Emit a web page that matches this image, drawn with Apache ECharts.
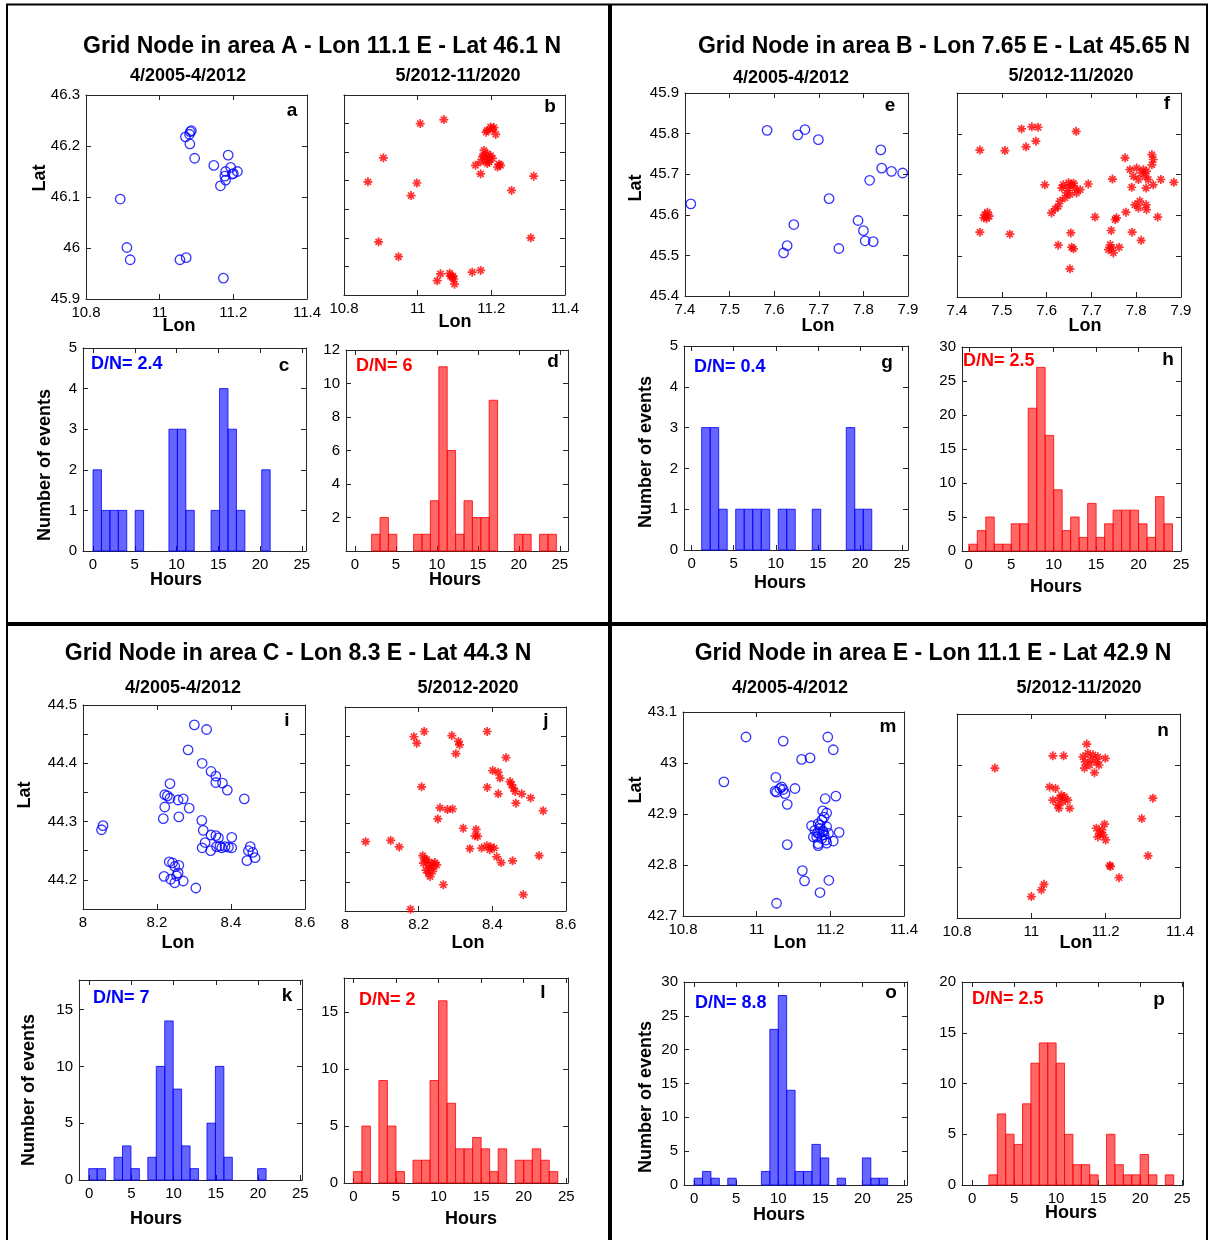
<!DOCTYPE html>
<html><head><meta charset="utf-8">
<script src="https://cdn.jsdelivr.net/npm/echarts@6/dist/echarts.min.js"></script>
<style>html,body{margin:0;padding:0;background:#fff}#c{width:1208px;height:1240px}</style>
</head><body><div id="c"></div>
<script>
// ---------------- DATA ----------------
// Panel A (Lon 11.1 E - Lat 46.1 N)
const aLon = [11.086,11.070,11.081,11.083,11.082,11.095,11.186,11.147,11.193,11.179,11.197,11.211,11.177,11.179,11.165,11.200,10.893,10.911,10.920,11.055,11.072,11.173];
const aLat = [46.230,46.218,46.223,46.228,46.204,46.176,46.182,46.162,46.158,46.150,46.145,46.150,46.141,46.133,46.122,46.146,46.096,46.001,45.977,45.977,45.981,45.941];
const bLon = [11.007,11.071,10.907,10.865,10.998,10.982,10.894,10.948,11.315,11.255,11.307,
  11.189,11.198,11.207,11.212,11.203,11.186,
  11.180,11.189,11.176,11.185,11.194,11.198,11.171,11.157,11.217,11.225,11.171,11.194,11.180,11.189,11.203,11.221,
  11.053,11.062,11.089,11.094,11.098,11.100,11.148,11.171,11.087,11.096];
const bLat = [46.250,46.257,46.190,46.148,46.146,46.124,46.043,46.017,46.158,46.133,46.050,
  46.238,46.244,46.243,46.231,46.240,46.235,
  46.203,46.197,46.192,46.186,46.183,46.194,46.183,46.177,46.174,46.177,46.162,46.188,46.194,46.180,46.189,46.179,
  45.975,45.987,45.983,45.981,45.978,45.969,45.990,45.993,45.988,45.983];
const cCounts = [2,1,1,1,0,1,0,0,0,3,3,1,0,0,1,4,3,1,0,0,2];
const dCounts = [1,2,1,0,0,1,1,3,11,6,1,3,2,2,9,0,0,1,1,0,1,1];

// Panel B (Lon 7.65 E - Lat 45.65 N)
const eLon = [7.413,7.584,7.653,7.669,7.699,7.839,7.841,7.863,7.888,7.814,7.723,7.644,7.629,7.621,7.745,7.788,7.800,7.804,7.822];
const eLat = [45.627,45.808,45.797,45.810,45.785,45.760,45.715,45.707,45.703,45.685,45.640,45.576,45.524,45.506,45.517,45.586,45.561,45.536,45.534];
const fLon = [7.451,7.507,7.544,7.567,7.581,7.554,7.576,7.666,
  7.462,7.468,7.472,7.460,7.466,7.451,7.518,7.596,
  7.637,7.649,7.656,7.663,7.645,7.634,7.652,7.667,7.641,7.630,7.626,7.619,7.611,7.693,7.660,7.675,7.649,
  7.654,7.626,7.656,7.660,7.652,7.708,
  7.775,7.747,7.786,7.801,7.812,7.820,7.794,7.805,7.827,7.835,7.838,7.835,7.823,7.816,7.838,7.822,7.790,7.855,7.884,
  7.797,7.808,7.822,7.823,7.805,7.777,7.848,7.753,7.756,7.744,7.791,7.811,7.742,7.745,7.749,7.762,7.738];
const fLat = [45.760,45.759,45.812,45.817,45.816,45.768,45.782,45.806,
  45.602,45.608,45.598,45.594,45.592,45.559,45.554,45.675,
  45.675,45.667,45.675,45.667,45.655,45.667,45.651,45.655,45.643,45.635,45.622,45.616,45.606,45.677,45.679,45.663,45.680,
  45.557,45.527,45.522,45.518,45.469,45.596,
  45.741,45.689,45.712,45.716,45.704,45.696,45.696,45.688,45.688,45.749,45.737,45.724,45.708,45.712,45.675,45.667,45.669,45.688,45.681,
  45.626,45.635,45.626,45.614,45.618,45.608,45.596,45.590,45.594,45.563,45.559,45.539,45.528,45.520,45.508,45.522,45.516];
const gCounts = [3,3,1,0,1,1,1,1,0,1,1,0,0,1,0,0,0,3,1,1];
const hCounts = [1,3,5,1,1,4,4,21,27,17,9,3,5,2,7,2,4,6,6,6,4,2,8,4];

// Panel C (Lon 8.3 E - Lat 44.3 N)
const iLon = [8.301,8.334,8.284,8.322,8.346,8.359,8.359,8.377,8.390,8.436,8.235,8.221,8.228,8.235,8.257,8.271,8.221,8.287,8.217,8.259,
  8.054,8.050,8.321,8.325,8.346,8.359,8.366,8.402,8.330,8.322,8.345,8.361,8.370,8.384,8.393,8.402,8.375,8.452,8.447,8.459,8.465,8.443,
  8.233,8.242,8.259,8.248,8.257,8.253,8.219,8.237,8.271,8.248,8.305];
const iLat = [44.466,44.458,44.423,44.400,44.386,44.378,44.367,44.366,44.354,44.339,44.365,44.346,44.344,44.340,44.337,44.339,44.325,44.323,44.305,44.308,
  44.293,44.286,44.302,44.285,44.277,44.276,44.272,44.273,44.264,44.255,44.250,44.257,44.258,44.257,44.256,44.255,44.255,44.257,44.250,44.247,44.238,44.233,
  44.231,44.229,44.225,44.223,44.212,44.207,44.206,44.201,44.198,44.195,44.186];
const jLon = [8.187,8.195,8.215,8.290,8.308,8.311,8.301,8.386,8.437,8.401,8.416,8.421,8.448,8.452,8.457,8.462,8.480,8.464,8.504,8.538,8.386,8.416,8.208,
  8.258,8.278,8.292,8.252,8.321,8.356,8.353,8.360,8.339,8.371,8.385,8.396,8.405,8.393,8.412,8.424,8.455,8.527,8.056,8.124,8.147,
  8.211,8.213,8.222,8.226,8.231,8.235,8.240,8.244,8.220,8.226,8.231,8.238,8.217,8.249,8.267,8.484,8.178];
const jLat = [44.449,44.438,44.458,44.451,44.441,44.435,44.420,44.458,44.413,44.391,44.388,44.378,44.372,44.367,44.361,44.355,44.351,44.335,44.344,44.322,44.362,44.351,44.363,
  44.327,44.324,44.325,44.308,44.292,44.290,44.279,44.278,44.257,44.258,44.262,44.260,44.258,44.255,44.243,44.233,44.236,44.245,44.269,44.271,44.260,
  44.245,44.232,44.238,44.229,44.223,44.232,44.226,44.233,44.220,44.215,44.209,44.218,44.239,44.229,44.195,44.178,44.153];
const kCounts = [1,1,0,2,3,1,0,2,10,14,8,3,1,0,5,10,2,0,0,0,1];
const lCounts = [1,5,0,9,5,1,0,2,2,9,16,7,3,3,4,3,1,3,0,2,2,3,2,1];

// Panel E (Lon 11.1 E - Lat 42.9 N)
const mLon = [10.971,11.072,11.193,11.208,11.122,11.145,10.911,11.052,11.054,11.063,11.068,11.072,11.077,11.050,11.104,11.083,11.186,11.215,11.179,11.190,
  11.149,11.158,11.167,11.177,11.183,11.172,11.181,11.190,11.195,11.163,11.177,11.188,11.167,11.190,11.208,11.224,11.167,11.154,11.172,11.179,11.170,11.183,11.165,
  11.083,11.124,11.130,11.196,11.172,11.054];
const mLat = [43.051,43.043,43.051,43.026,43.007,43.010,42.963,42.972,42.943,42.950,42.953,42.948,42.940,42.945,42.950,42.919,42.930,42.935,42.906,42.902,
  42.877,42.868,42.881,42.888,42.894,42.872,42.865,42.875,42.862,42.855,42.852,42.849,42.842,42.843,42.847,42.864,42.838,42.855,42.878,42.867,42.862,42.859,42.863,
  42.840,42.789,42.769,42.770,42.746,42.725];
const nLon = [10.902,11.058,11.087,
  11.149,11.139,11.152,11.166,11.179,11.161,11.175,11.199,11.143,11.157,11.170,11.182,11.145,
  11.049,11.065,11.058,11.076,11.089,11.098,11.071,11.085,11.103,11.074,11.081,
  11.197,11.175,11.184,11.193,11.200,11.179,11.190,
  11.327,11.297,11.314,11.211,11.213,11.236,11.034,11.027,11.000];
const nLat = [42.994,43.018,43.018,
  43.041,43.016,43.023,43.020,43.016,43.010,43.006,43.013,42.994,43.000,42.985,43.000,43.006,
  42.957,42.954,42.931,42.935,42.938,42.931,42.922,42.928,42.915,42.915,42.941,
  42.884,42.876,42.866,42.863,42.853,42.859,42.873,
  42.935,42.895,42.822,42.803,42.801,42.779,42.766,42.755,42.742];
const oCounts = [1,2,1,0,1,0,0,0,2,23,28,14,2,2,6,4,0,1,0,0,4,1,1];
const pCounts = [1,7,5,4,8,12,14,14,12,5,2,2,1,0,5,2,1,1,3,1,0,1];

// bin start hour and bin width (hours) of each histogram
const binStart = {c:0, d:2.03, g:1.2, h:0, k:-0.05, l:0, o:0, p:2};
const binWidth = {c:1.01, d:1.025, g:1.01, h:1.0, k:1.0, l:1.0, o:1.0, p:1.0};

// tick values
const hourTicks = [0,5,10,15,20,25];
const lonTicksA = [10.8,11,11.2,11.4];
const latTicksA = [45.9,46,46.1,46.2,46.3];
const latTicksB2 = [46.0,46.05,46.1,46.15,46.2,46.25];
const lonTicksB = [7.4,7.5,7.6,7.7,7.8,7.9];
const latTicksB = [45.4,45.5,45.6,45.7,45.8,45.9];
const lonTicksC = [8,8.2,8.4,8.6];
const latTicksC = [44.15,44.2,44.25,44.3,44.35,44.4,44.45,44.5];
const latLabelsC = [44.2,44.3,44.4,44.5];
const lonTicksE = [10.8,11,11.2,11.4];
const latTicksE = [42.7,42.8,42.9,43,43.1];

// ---------------- BUILD ----------------
const FONT = '"Liberation Sans", Arial, Helvetica, sans-serif';
const AX = '#262626';
const BLUE = '#0000ff', RED = '#ff0000';
const grids = [], xAxes = [], yAxes = [], series = [];

function fmt(v){ return String(Number(v.toFixed(3))); }

function addGrid(box, xr, yr, xTicks, xLabels, yTicks, yLabels){
  const gi = grids.length;
  grids.push({left:box[0], top:box[1], width:box[2]-box[0], height:box[3]-box[1], containLabel:false});
  const base = (pos, ticks, labels, range, isX) => ({
    gridIndex: gi, type:'value', min: range[0], max: range[1], position: pos,
    axisLine:{show:true, onZero:false, lineStyle:{color:AX, width:1}},
    axisTick:{show:true, inside:true, length:5, customValues:ticks, lineStyle:{color:AX, width:1}},
    axisLabel:{show: !!labels, customValues: labels || [], formatter: fmt,
      fontFamily: FONT, fontSize: 15, color:'#000', margin: isX ? 6 : 6},
    splitLine:{show:false}
  });
  xAxes.push(base('bottom', xTicks, xLabels, xr, true));
  xAxes.push(base('top', xTicks, null, xr, true));
  yAxes.push(base('left', yTicks, yLabels, yr, false));
  yAxes.push(base('right', yTicks, null, yr, false));
  return gi;
}

function addScatter(gi, lon, lat, kind){
  const blue = kind === 'blue';
  series.push({
    type:'scatter', xAxisIndex: gi*2, yAxisIndex: gi*2, silent:true, clip:false,
    data: lon.map((v,i)=>[v, lat[i]]),
    symbol: blue ? 'circle' : 'path://M0,5L10,5M5,0L5,10M1.6,1.6L8.4,8.4M8.4,1.6L1.6,8.4',
    symbolSize: blue ? 9.5 : 9,
    itemStyle: {color:'rgba(0,0,0,0)', borderColor: blue ? BLUE : RED, borderWidth: blue ? 1.3 : 1.7}
  });
}

function addHist(gi, counts, key, kind){
  const blue = kind === 'blue';
  const s = binStart[key], w = binWidth[key];
  const data = [];
  counts.forEach((c,i)=>{ if(c>0) data.push([s+i*w, s+(i+1)*w, c]); });
  series.push({
    type:'custom', xAxisIndex: gi*2, yAxisIndex: gi*2, silent:true,
    data, encode:{x:[0,1], y:2},
    renderItem:(params, api)=>{
      const p0 = api.coord([api.value(0), 0]);
      const p1 = api.coord([api.value(1), api.value(2)]);
      return {type:'rect', shape:{x:p0[0], y:p1[1], width:p1[0]-p0[0], height:p0[1]-p1[1]},
        style:{fill: blue ? 'rgba(0,0,255,0.6)' : 'rgba(255,0,0,0.6)', stroke: blue ? '#0000ff' : '#ff0000', lineWidth:0.8}};
    }
  });
}

function ticks(a,b,st){ const r=[]; for(let v=a; v<=b+1e-9; v+=st) r.push(Math.round(v*1000)/1000); return r; }

// Panel A
let g;
g = addGrid([86,95,307,299],[10.8,11.4],[45.9,46.3], lonTicksA, lonTicksA, latTicksA, latTicksA); addScatter(g, aLon, aLat, 'blue');
g = addGrid([344,95,565,295],[10.8,11.4],[45.95,46.3], lonTicksA, lonTicksA, latTicksB2, null); addScatter(g, bLon, bLat, 'red');
g = addGrid([83,348,306,551],[-1.2,25.5],[0,5], hourTicks, hourTicks, ticks(0,5,1), ticks(0,5,1)); addHist(g, cCounts, 'c', 'blue');
g = addGrid([346,350,568,551],[-1.1,26],[0,12], hourTicks, hourTicks, ticks(2,12,2), ticks(2,12,2)); addHist(g, dCounts, 'd', 'red');
// Panel B
g = addGrid([685,93,908,296],[7.4,7.9],[45.4,45.9], lonTicksB, lonTicksB, latTicksB, latTicksB); addScatter(g, eLon, eLat, 'blue');
g = addGrid([957,93,1181,297],[7.4,7.9],[45.4,45.9], lonTicksB, lonTicksB, latTicksB, null); addScatter(g, fLon, fLat, 'red');
g = addGrid([684,346,908,550],[-0.9,25.7],[0,5], hourTicks, hourTicks, ticks(0,5,1), ticks(0,5,1)); addHist(g, gCounts, 'g', 'blue');
g = addGrid([962,347,1181,551],[-0.8,25],[0,30], hourTicks, hourTicks, ticks(0,30,5), ticks(0,30,5)); addHist(g, hCounts, 'h', 'red');
// Panel C
g = addGrid([83,705,305,909],[8,8.6],[44.15,44.5], lonTicksC, lonTicksC, latTicksC, latLabelsC); addScatter(g, iLon, iLat, 'blue');
g = addGrid([345,707,566,911],[8,8.6],[44.15,44.5], lonTicksC, lonTicksC, latTicksC, null); addScatter(g, jLon, jLat, 'red');
g = addGrid([79,980,302,1180],[-1.2,25.2],[0,17.6], hourTicks, hourTicks, ticks(0,15,5), ticks(0,15,5)); addHist(g, kCounts, 'k', 'blue');
g = addGrid([344,978,568,1183],[-1.1,25.2],[0,18], hourTicks, hourTicks, ticks(0,15,5), ticks(0,15,5)); addHist(g, lCounts, 'l', 'red');
// Panel E
g = addGrid([683,712,904,916],[10.8,11.4],[42.7,43.1], lonTicksE, lonTicksE, latTicksE, latTicksE); addScatter(g, mLon, mLat, 'blue');
g = addGrid([957,714,1180,918],[10.8,11.4],[42.7,43.1], lonTicksE, lonTicksE, latTicksE, null); addScatter(g, nLon, nLat, 'red');
g = addGrid([684,982,907,1185],[-1.2,25.3],[0,30], hourTicks, hourTicks, ticks(0,30,5), ticks(0,30,5)); addHist(g, oCounts, 'o', 'blue');
g = addGrid([962,982,1183,1185],[-1.2,25.1],[0,20], hourTicks, hourTicks, ticks(0,20,5), ticks(0,20,5)); addHist(g, pCounts, 'p', 'red');

// ---------------- TEXT / FRAME ----------------
const gfx = [];
function txt(t, x, y, size, opts){
  opts = opts || {};
  gfx.push({type:'text', x, y, rotation: opts.rot || 0, silent:true, z:100,
    style:{text:t, fill: opts.color || '#000', font: (opts.bold===false?'':'bold ') + size + 'px ' + FONT,
      align: opts.align || 'center', verticalAlign:'middle'}});
}
const R = Math.PI/2;
const TS = 23, SS = 18, AS = 18;
// titles
txt('Grid Node in area A - Lon 11.1 E - Lat 46.1 N', 322, 47, TS);
txt('Grid Node in area B - Lon 7.65 E - Lat 45.65 N', 944, 47, TS);
txt('Grid Node in area C - Lon 8.3 E - Lat 44.3 N', 298, 654, TS);
txt('Grid Node in area E - Lon 11.1 E - Lat 42.9 N', 933, 654, TS);
// period subtitles
txt('4/2005-4/2012', 188, 76, SS); txt('5/2012-11/2020', 458, 76, SS);
txt('4/2005-4/2012', 791, 78, SS); txt('5/2012-11/2020', 1071, 76, SS);
txt('4/2005-4/2012', 183, 688, SS); txt('5/2012-2020', 468, 688, SS);
txt('4/2005-4/2012', 790, 688, SS); txt('5/2012-11/2020', 1079, 688, SS);
// axis names
txt('Lat', 40, 178, AS, {rot:R}); txt('Lat', 636, 188, AS, {rot:R}); txt('Lat', 25, 795, AS, {rot:R}); txt('Lat', 636, 790, AS, {rot:R});
txt('Lon', 179, 326, AS); txt('Lon', 455, 322, AS); txt('Lon', 818, 326, AS); txt('Lon', 1085, 326, AS);
txt('Lon', 178, 943, AS); txt('Lon', 468, 943, AS); txt('Lon', 790, 943, AS); txt('Lon', 1076, 943, AS);
txt('Number of events', 45, 465, AS, {rot:R}); txt('Number of events', 646, 452, AS, {rot:R});
txt('Number of events', 29, 1090, AS, {rot:R}); txt('Number of events', 646, 1097, AS, {rot:R});
txt('Hours', 176, 580, AS); txt('Hours', 455, 580, AS); txt('Hours', 780, 583, AS); txt('Hours', 1056, 587, AS);
txt('Hours', 156, 1219, AS); txt('Hours', 471, 1219, AS); txt('Hours', 779, 1215, AS); txt('Hours', 1071, 1213, AS);
// D/N
txt('D/N= 2.4', 91, 364, SS, {color:BLUE, align:'left'}); txt('D/N= 6', 356, 366, SS, {color:RED, align:'left'});
txt('D/N= 0.4', 694, 367, SS, {color:BLUE, align:'left'}); txt('D/N= 2.5', 963, 361, SS, {color:RED, align:'left'});
txt('D/N= 7', 93, 998, SS, {color:BLUE, align:'left'}); txt('D/N= 2', 359, 1000, SS, {color:RED, align:'left'});
txt('D/N= 8.8', 695, 1003, SS, {color:BLUE, align:'left'}); txt('D/N= 2.5', 972, 999, SS, {color:RED, align:'left'});
// panel letters
[['a',292,111],['b',550,107],['c',284,366],['d',553,362],['e',890,106],['f',1167,104],['g',887,363],['h',1168,360],
 ['i',287,721],['j',546,721],['k',287,996],['l',543,993],['m',888,727],['n',1163,731],['o',891,993],['p',1159,1000]]
 .forEach(d=>txt(d[0], d[1], d[2], 19));
// frame
const line = (x1,y1,x2,y2,w)=>gfx.push({type:'line', silent:true, z:50, shape:{x1,y1,x2,y2}, style:{stroke:'#000', lineWidth:w}});
line(7,4,7,1240,2); line(6,4.5,1208,4.5,2); line(1207,4,1207,1240,2);
line(610,4,610,1240,4); line(6,624,1208,624,4);

const chart = echarts.init(document.getElementById('c'), null, {renderer:'canvas', width:1208, height:1240});
chart.setOption({animation:false, backgroundColor:'#fff', grid:grids, xAxis:xAxes, yAxis:yAxes, series, graphic:gfx});
</script>
</body></html>
